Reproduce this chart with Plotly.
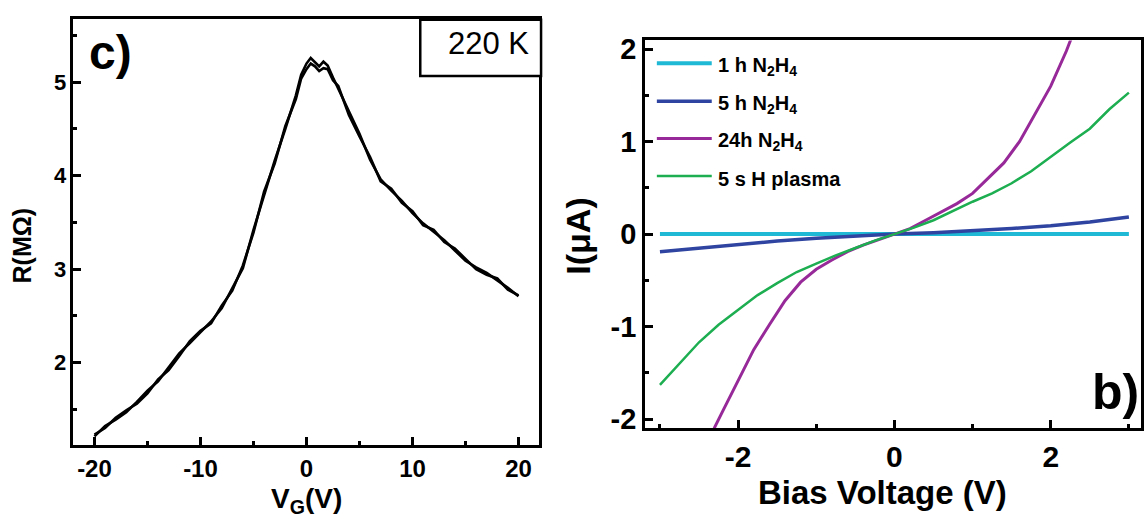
import plotly.graph_objects as go

W, H = 1144, 526
FONT = "Liberation Sans, Arial, sans-serif"

# ---------------- Panel c) data : R(MOhm) vs V_G(V) ----------------
vg_fwd = [-20, -19, -18, -17, -16, -15, -14, -13, -12, -11, -10, -9, -8, -7, -6, -5, -4, -3, -2, -1,
          -0.5, 0, 0.4, 0.8, 1.2, 1.6, 2.0, 2.5, 3, 4, 5, 6, 7, 8, 9, 10, 11, 12, 13, 14, 15, 16, 17, 18, 19, 20]
r_fwd = [1.21, 1.32, 1.39, 1.47, 1.58, 1.70, 1.80, 1.95, 2.10, 2.21, 2.32, 2.44, 2.58, 2.79, 3.01, 3.42, 3.80, 4.16, 4.50, 4.86,
         5.08, 5.20, 5.26, 5.22, 5.17, 5.22, 5.18, 5.05, 4.93, 4.68, 4.45, 4.17, 3.96, 3.84, 3.73, 3.60, 3.49, 3.40, 3.31, 3.20, 3.09, 3.02, 2.96, 2.88, 2.80, 2.71]

vg_bwd = [-20, -19, -18, -17, -16, -15, -14, -13, -12, -11, -10, -9, -8, -7, -6, -5, -4, -3, -2, -1,
          -0.5, 0, 0.4, 0.8, 1.2, 1.6, 2.0, 2.5, 3, 4, 5, 6, 7, 8, 9, 10, 11, 12, 13, 14, 15, 16, 17, 18, 19, 20]
r_bwd = [1.23, 1.30, 1.41, 1.49, 1.56, 1.67, 1.82, 1.92, 2.07, 2.23, 2.34, 2.42, 2.61, 2.77, 3.04, 3.39, 3.83, 4.13, 4.53, 4.82,
         5.04, 5.14, 5.20, 5.17, 5.12, 5.15, 5.14, 5.02, 4.96, 4.65, 4.42, 4.20, 3.94, 3.86, 3.71, 3.62, 3.47, 3.42, 3.29, 3.22, 3.11, 3.00, 2.94, 2.90, 2.78, 2.72]

c_xtick_vals = [-20, -10, 0, 10, 20]
c_xtick_text = ["-20", "-10", "0", "10", "20"]
c_ytick_vals = [2, 3, 4, 5]
c_ytick_text = ["2", "3", "4", "5"]

# ---------------- Panel b) data : I(uA) vs Bias Voltage(V) ----------------
v_1h = [-3, -2, -1, 0, 1, 2, 3]
i_1h = [0, 0, 0, 0, 0, 0, 0]

v_5h = [-3, -2.5, -2, -1.5, -1, -0.5, 0, 0.5, 1, 1.5, 2, 2.5, 3]
i_5h = [-0.19, -0.15, -0.11, -0.075, -0.045, -0.02, 0, 0.015, 0.035, 0.06, 0.09, 0.13, 0.185]

v_24h = [-2.4, -2.3, -2.2, -2.0, -1.8, -1.6, -1.4, -1.2, -1.0, -0.8, -0.6, -0.4, -0.2, 0,
         0.2, 0.4, 0.6, 0.8, 1.0, 1.2, 1.4, 1.6, 1.8, 2.0, 2.2, 2.3]
i_24h = [-2.30, -2.09, -1.92, -1.58, -1.25, -0.98, -0.72, -0.52, -0.38, -0.28, -0.19, -0.12, -0.06, 0,
         0.06, 0.15, 0.24, 0.33, 0.44, 0.60, 0.77, 1.00, 1.30, 1.60, 1.98, 2.20]

v_pl = [-3.0, -2.75, -2.5, -2.25, -2.0, -1.75, -1.5, -1.25, -1.0, -0.75, -0.5, -0.25, 0,
        0.25, 0.5, 0.75, 1.0, 1.25, 1.5, 1.75, 2.0, 2.25, 2.5, 2.75, 3.0]
i_pl = [-1.63, -1.40, -1.17, -0.98, -0.82, -0.66, -0.53, -0.41, -0.32, -0.23, -0.15, -0.07, 0,
        0.07, 0.15, 0.25, 0.35, 0.44, 0.55, 0.68, 0.84, 0.99, 1.14, 1.35, 1.53]

b_xtick_vals = [-2, 0, 2]
b_xtick_text = ["-2", "0", "2"]
b_ytick_vals = [-2, -1, 0, 1, 2]
b_ytick_text = ["-2", "-1", "0", "1", "2"]

series_names = ["1 h N<sub>2</sub>H<sub>4</sub>", "5 h N<sub>2</sub>H<sub>4</sub>",
                "24h N<sub>2</sub>H<sub>4</sub>", "5 s H plasma"]
series_colors = ["#1FB9D6", "#2E44A0", "#972A98", "#1CAE50"]
series_widths = [4, 3.5, 3, 2.5]

fig = go.Figure()
fig.add_trace(go.Scatter(x=vg_fwd, y=r_fwd, mode="lines", line=dict(color="black", width=2.6),
                         xaxis="x", yaxis="y", showlegend=False))
fig.add_trace(go.Scatter(x=vg_bwd, y=r_bwd, mode="lines", line=dict(color="black", width=2.6),
                         xaxis="x", yaxis="y", showlegend=False))

data_b = [(v_1h, i_1h), (v_5h, i_5h), (v_24h, i_24h), (v_pl, i_pl)]
for (vx, iy), name, col, w in zip(data_b, series_names, series_colors, series_widths):
    fig.add_trace(go.Scatter(x=vx, y=iy, mode="lines", name=name, line=dict(color=col, width=w),
                             xaxis="x2", yaxis="y2", showlegend=False))


def px(x):
    return x / W


def py(y):
    return 1 - y / H


common_axis = dict(showgrid=False, zeroline=False, showline=True, linecolor="black", linewidth=2.5,
                   mirror=True, ticks="inside", tickwidth=2.5, ticklen=8, tickcolor="black",
                   tickmode="array")

fig.update_layout(
    width=W, height=H, margin=dict(l=0, r=0, t=0, b=0),
    paper_bgcolor="white", plot_bgcolor="white",
    font=dict(family=FONT, color="black"),
    xaxis=dict(domain=[px(73.5), px(540)], range=[-21.99, 21.94],
               tickvals=c_xtick_vals, ticktext=c_xtick_text,
               tickfont=dict(size=24, weight="bold"),
               minor=dict(dtick=5, tick0=0, ticks="inside", ticklen=4, tickwidth=2.5, tickcolor="black"),
               anchor="y", **common_axis),
    yaxis=dict(domain=[py(450), py(12.7)], range=[1.118, 5.673],
               tickvals=c_ytick_vals, ticktext=c_ytick_text,
               tickfont=dict(size=22, weight="bold"),
               minor=dict(dtick=0.5, tick0=0, ticks="inside", ticklen=4, tickwidth=2.5, tickcolor="black"),
               anchor="x", **common_axis),
    xaxis2=dict(domain=[px(646), px(1143)], range=[-3.193, 3.155],
                tickvals=b_xtick_vals, ticktext=b_xtick_text,
                tickfont=dict(size=30, weight="bold"),
                minor=dict(dtick=1, tick0=0, ticks="inside", ticklen=4, tickwidth=2.5, tickcolor="black"),
                anchor="y2", **common_axis),
    yaxis2=dict(domain=[py(432.5), py(34.3)], range=[-2.097, 2.095],
                tickvals=b_ytick_vals, ticktext=b_ytick_text,
                tickfont=dict(size=29, weight="bold"),
                minor=dict(dtick=0.5, tick0=0, ticks="inside", ticklen=4, tickwidth=2.5, tickcolor="black"),
                anchor="x2", **common_axis),
)

shapes = []
annotations = []

# 220 K box
shapes.append(dict(type="rect", xref="paper", yref="paper", x0=px(421), x1=px(542), y0=py(71), y1=py(13),
                   line=dict(color="black", width=2.5), fillcolor="white", layer="above"))
annotations.append(dict(text="220 K", xref="paper", yref="paper", x=px(489), y=py(38), showarrow=False,
                        xanchor="center", yanchor="middle", font=dict(size=31, family=FONT)))

# panel labels
annotations.append(dict(text="<b>c)</b>", xref="paper", yref="paper", x=px(111), y=py(47), showarrow=False,
                        xanchor="center", yanchor="middle", font=dict(size=48, family=FONT)))
annotations.append(dict(text="<b>b)</b>", xref="paper", yref="paper", x=px(1117), y=py(396), showarrow=False,
                        xanchor="center", yanchor="middle", font=dict(size=50, family=FONT)))

# axis titles
annotations.append(dict(text="<b>R(MΩ)</b>", xref="paper", yref="paper", x=px(23), y=py(245), showarrow=False,
                        textangle=-90, xanchor="center", yanchor="middle", font=dict(size=25, family=FONT)))
annotations.append(dict(text="<b>V<sub>G</sub>(V)</b>", xref="paper", yref="paper", x=px(307), y=py(507),
                        showarrow=False, xanchor="center", yanchor="middle", font=dict(size=28, family=FONT)))
annotations.append(dict(text="<b>I(μA)</b>", xref="paper", yref="paper", x=px(579), y=py(235), showarrow=False,
                        textangle=-90, xanchor="center", yanchor="middle", font=dict(size=34, family=FONT)))
annotations.append(dict(text="<b>Bias Voltage (V)</b>", xref="paper", yref="paper", x=px(884), y=py(499),
                        showarrow=False, xanchor="center", yanchor="middle", font=dict(size=33, family=FONT)))

# legend (drawn manually)
leg_y = [57.7, 96.7, 135, 173.7]
for yy, name, col, w in zip(leg_y, series_names, series_colors, series_widths):
    shapes.append(dict(type="line", xref="paper", yref="paper", x0=px(658), x1=px(713), y0=py(yy), y1=py(yy),
                       line=dict(color=col, width=w)))
    annotations.append(dict(text="<b>" + name + "</b>", xref="paper", yref="paper", x=px(717), y=py(yy + 3),
                            showarrow=False, xanchor="left", yanchor="middle", font=dict(size=20, family=FONT)))

fig.update_layout(shapes=shapes, annotations=annotations)
fig.write_html("out.html")
